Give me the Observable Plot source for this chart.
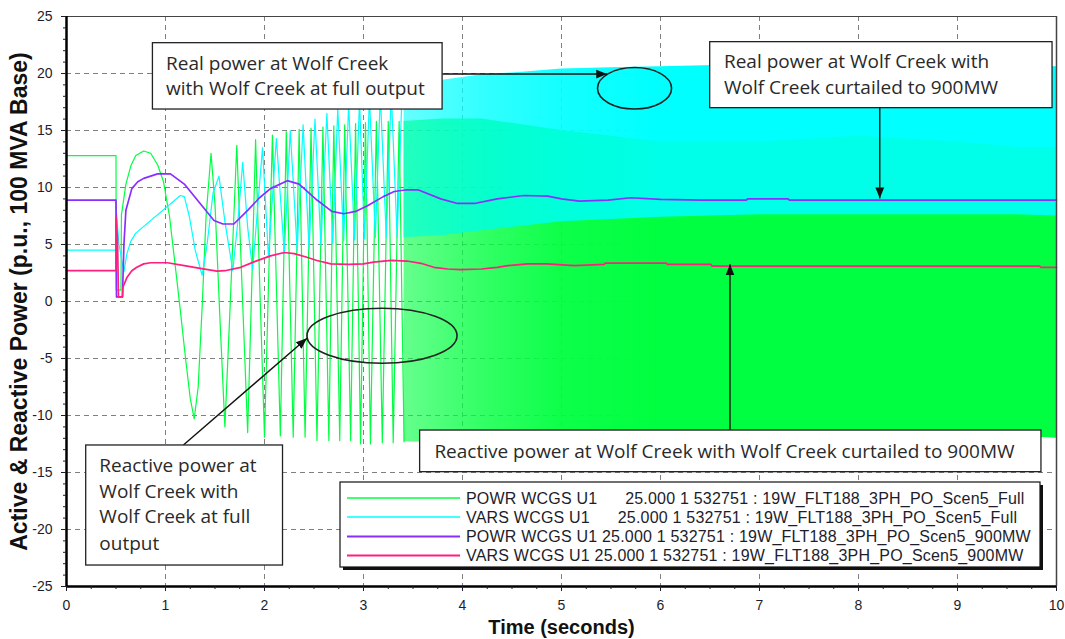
<!DOCTYPE html>
<html><head><meta charset="utf-8">
<script src="https://cdn.jsdelivr.net/npm/d3@7"></script>
<script src="https://cdn.jsdelivr.net/npm/@observablehq/plot@0.6"></script>
<style>
body{margin:0;background:#fff;}
#chart{position:relative;width:1065px;height:639px;}
</style></head><body><div id="chart"></div>
<script>
// ---- data (time in s, value in p.u.) ----
const powrFull = [[0,12.8],[0.5,12.8],[0.502,1.0],[0.55,1.0],[0.555,7.6],[0.6,10.3],[0.65,11.9],[0.7,12.8],[0.78,13.2],[0.85,13.0],[0.92,12.0],[0.98,10.5],[1.04,7.5],[1.1,3.0],[1.15,-0.8],[1.2,-4.8],[1.25,-8.5],[1.29,-10.3],[1.33,-7.5],[1.37,-0.5],[1.41,7.5],[1.46,13.0],[1.5,8.5],[1.55,-1.5],[1.6,-11.0],[1.65,-1.0],[1.72,13.7],[1.77,2.0],[1.83,-11.5],[1.87,1.0],[1.91,14.2],[1.95,2.0],[2.0,-11.9],[2.08,14.6],[2.16,-11.8],[2.22,14.9],[2.29,-11.9],[2.35,15.1],[2.41,-11.9],[2.47,15.2],[2.53,-12.2],[2.59,15.3],[2.65,-12.2],[2.70,15.4],[2.76,-12.2],[2.81,15.5],[2.87,-12.2],[2.92,15.6],[2.97,-12.5],[3.02,15.7],[3.07,-12.5],[3.13,15.8],[3.19,-12.4],[3.25,15.8],[3.30,-12.4],[3.36,15.8],[3.41,-12.3]];
const varsFull = [[0,4.5],[0.5,4.5],[0.505,7.8],[0.53,5.0],[0.58,2.6],[0.61,4.2],[0.65,5.3],[0.7,6.0],[1.15,9.3],[1.19,9.2],[1.24,7.5],[1.3,4.5],[1.37,2.3],[1.42,5.0],[1.48,9.5],[1.54,11.0],[1.6,7.0],[1.68,2.7],[1.73,7.0],[1.78,12.2],[1.83,6.5],[1.88,2.8],[1.98,13.5],[2.04,3.9],[2.12,14.3],[2.2,4.2],[2.26,15.0],[2.33,4.5],[2.39,15.5],[2.45,4.6],[2.51,16.0],[2.57,4.9],[2.63,16.5],[2.69,5.1],[2.74,16.9],[2.80,5.3],[2.85,17.3],[2.91,5.4],[2.96,17.6],[3.01,5.5],[3.06,17.9],[3.12,5.6],[3.17,18.2],[3.23,5.6],[3.28,18.4],[3.34,5.6],[3.39,18.5]];
const powr900 = [[0,8.9],[0.5,8.9],[0.505,0.4],[0.565,0.4],[0.58,5.0],[0.6,8.0],[0.66,9.9],[0.72,10.5],[0.78,10.8],[0.92,11.2],[1.05,11.2],[1.19,10.3],[1.35,8.6],[1.49,7.1],[1.58,6.8],[1.69,6.8],[1.83,8.0],[1.95,9.1],[2.06,9.9],[2.23,10.6],[2.35,10.3],[2.53,8.9],[2.68,7.9],[2.8,7.7],[2.92,7.9],[3.04,8.4],[3.2,9.2],[3.31,9.65],[3.44,9.8],[3.55,9.8],[3.78,9.0],[3.95,8.6],[4.12,8.6],[4.35,9.0],[4.62,9.3],[4.86,9.25],[5.0,9.0],[5.18,8.8],[5.47,8.9],[5.7,9.1],[6.0,8.95],[6.41,8.9],[6.87,8.9],[6.88,9.0],[7.29,9.0],[7.3,8.9],[10,8.9]];
const vars900 = [[0,2.7],[0.5,2.7],[0.502,7.4],[0.515,5.5],[0.525,0.4],[0.565,0.4],[0.57,1.25],[0.61,2.1],[0.66,2.7],[0.71,3.0],[0.78,3.3],[0.85,3.4],[1.02,3.4],[1.19,3.15],[1.35,2.9],[1.52,2.66],[1.6,2.7],[1.76,3.0],[1.9,3.5],[2.06,4.0],[2.2,4.3],[2.3,4.2],[2.42,3.9],[2.53,3.6],[2.67,3.3],[2.85,3.25],[3.0,3.3],[3.1,3.45],[3.28,3.6],[3.44,3.55],[3.58,3.35],[3.71,3.0],[3.85,2.85],[3.98,2.8],[4.19,2.85],[4.35,3.0],[4.46,3.15],[4.66,3.3],[4.85,3.3],[5.13,3.15],[5.43,3.25],[5.44,3.36],[6.06,3.36],[6.07,3.25],[6.51,3.25],[6.52,3.1],[9.83,3.1],[9.84,3.0],[10,3.0]];
// dense (unresolvable) oscillation after ~3.4 s: envelopes
const bandT        = [3.41, 3.8, 4.2, 4.6, 5.0, 5.5, 6.0, 7.0, 8.0, 9.0, 9.6, 10];
const powrFullLow  = [-12.3,-12.4,-12.3,-12.2,-12.0,-11.9,-11.8,-11.7,-11.7,-11.7,-11.8,-12.0];
const powrFullHigh = [15.8, 16.0, 16.0, 15.5, 15.0, 14.5, 14.0, 14.0, 14.5, 14.0, 13.5, 13.5];
const varsFullLow  = [5.6, 5.8, 6.2, 6.6, 7.0, 7.2, 7.4, 7.6, 7.6, 7.6, 7.6, 7.5];
const varsFullHigh = [18.5, 19.4, 19.9, 20.1, 20.4, 20.5, 20.6, 20.8, 20.9, 20.8, 20.7, 20.6];

const xTicks = [0,1,2,3,4,5,6,7,8,9,10];
const yTicks = [-25,-20,-15,-10,-5,0,5,10,15,20,25];
const xLabel = "Time (seconds)";
const yLabel = "Active & Reactive Power (p.u., 100 MVA Base)";
const legendLabels = [
  "POWR WCGS U1      25.000 1 532751 : 19W_FLT188_3PH_PO_Scen5_Full",
  "VARS WCGS U1      25.000 1 532751 : 19W_FLT188_3PH_PO_Scen5_Full",
  "POWR WCGS U1 25.000 1 532751 : 19W_FLT188_3PH_PO_Scen5_900MW",
  "VARS WCGS U1 25.000 1 532751 : 19W_FLT188_3PH_PO_Scen5_900MW"
];
const annotations = [
  {box:[0.873,3.799,22.66,16.84], tx:1.011, ty:[20.85,18.66], lines:["Real power at Wolf Creek","with Wolf Creek at full output"]},
  {box:[6.502,9.960,22.75,16.96], tx:6.646, ty:[20.99,18.75], lines:["Real power at Wolf Creek with","Wolf Creek curtailed to 900MW"]},
  {box:[3.572,9.848,-11.32,-14.97], tx:3.721, ty:[-13.22], lines:["Reactive power at Wolf Creek with Wolf Creek curtailed to 900MW"]},
  {box:[0.199,2.187,-12.63,-23.16], tx:0.337, ty:[-14.45,-16.67,-18.92,-21.25], lines:["Reactive power at","Wolf Creek with","Wolf Creek at full","output"]}
];
const arrows = [[3.80,19.91,5.467,19.91],[8.22,16.93,8.22,9.0],[6.707,-11.32,6.707,3.22],[1.186,-12.63,2.434,-3.27]];
const ellipses = [[5.743,18.66,0.374,1.82],[3.192,-3.05,0.758,2.41]];

const GREEN="#00ff40", CYAN="#00ffff", PURPLE="#8a2eff", PINK="#ff1f7f";
const band = bandT.map((t,i)=>({t, gLow:powrFullLow[i], gHigh:powrFullHigh[i], cLow:varsFullLow[i], cHigh:varsFullHigh[i]}));
const xMinor = d3.range(0, 10.001, 0.25).filter(v => Math.abs(v - Math.round(v)) > 1e-6);
const yMinor = d3.range(-25, 25.001, 1).filter(v => v % 5 !== 0);
const fx = d=>d[0], fy = d=>d[1];
const plain = d => String(d);

const plot = Plot.plot({
  width: 1065, height: 639,
  marginLeft: 66, marginRight: 9, marginTop: 16, marginBottom: 53,
  x: {domain: [0, 10]},
  y: {domain: [-25, 25]},
  style: {fontFamily: "'Liberation Sans', Arial, sans-serif", background: "#fff", color: "#1d1d2b"},
  marks: [
    Plot.gridX(xTicks.slice(1,-1), {stroke:"#808080", strokeOpacity:1, strokeDasharray:"5,4"}),
    Plot.gridY(yTicks.slice(1,-1), {stroke:"#808080", strokeOpacity:1, strokeDasharray:"5,4"}),
    Plot.areaY(band, {x:"t", y1:"gLow", y2:"gHigh", fill:"url(#gradGreen)"}),
    Plot.line(powrFull, {x:fx, y:fy, stroke:GREEN, strokeWidth:1.2}),
    Plot.areaY(band, {x:"t", y1:"cLow", y2:"cHigh", fill:"url(#gradCyan)"}),
    Plot.line(varsFull, {x:fx, y:fy, stroke:CYAN, strokeWidth:1.2}),
    Plot.areaY(band, {x:"t", y1:"cLow", y2:"gHigh", fill:GREEN, fillOpacity:0.12}),
    Plot.line(powr900, {x:fx, y:fy, stroke:PURPLE, strokeWidth:1.7}),
    Plot.line(vars900, {x:fx, y:fy, stroke:PINK, strokeWidth:1.7}),
    Plot.ruleY([25], {stroke:"#444", strokeWidth:1.2}),
    Plot.ruleX([10], {stroke:"#444", strokeWidth:1.5}),
    Plot.ruleX([0], {stroke:"#000", strokeWidth:2.5}),
    Plot.ruleY([-25], {stroke:"#000", strokeWidth:2.5}),
    Plot.axisX(xTicks, {tickSize:5, tickPadding:9, fontSize:14, label:null, tickFormat:plain}),
    Plot.axisX(xMinor, {tickSize:3, tickFormat:()=>"", label:null}),
    Plot.axisY(yTicks, {tickSize:5, tickPadding:9, fontSize:14, label:null, tickFormat:plain}),
    Plot.axisY(yMinor, {tickSize:3, tickFormat:()=>"", label:null}),
    Plot.text([xLabel], {text:d=>d, frameAnchor:"bottom", dy:41, lineAnchor:"middle", textAnchor:"middle", fontSize:20, fontWeight:"bold", fill:"#111"}),
    Plot.text([yLabel], {text:d=>d, frameAnchor:"left", dx:-47, rotate:-90, lineAnchor:"middle", textAnchor:"middle", fontSize:23, fontWeight:"bold", fill:"#111"})
  ]
});
document.getElementById("chart").appendChild(plot);

// ---- defs, annotations, placed through the plot's own scales ----
const sx = plot.scale("x"), sy = plot.scale("y");
const X = v => sx.apply(v), Y = v => sy.apply(v);
const svg = d3.select(plot);
const defs = svg.append("defs");
defs.append("marker").attr("id","ah").attr("viewBox","0 0 10 10")
  .attr("refX",10).attr("refY",5).attr("markerWidth",11).attr("markerHeight",11)
  .attr("markerUnits","userSpaceOnUse").attr("orient","auto")
  .append("path").attr("d","M0,1L10,5L0,9z").attr("fill","#111");
function grad(id, color, stops){
  const g = defs.append("linearGradient").attr("id",id).attr("gradientUnits","userSpaceOnUse")
    .attr("x1",X(bandT[0])).attr("x2",X(bandT[bandT.length-1])).attr("y1",0).attr("y2",0);
  const x0 = X(bandT[0]), w = X(bandT[bandT.length-1]) - x0;
  stops.forEach(([t,o])=>g.append("stop").attr("offset",(X(t)-x0)/w).attr("stop-color",color).attr("stop-opacity",o));
}
grad("gradGreen", GREEN, [[3.41,0.6],[4.2,0.8],[5.0,0.95],[6.0,1]]);
grad("gradCyan", CYAN, [[3.41,0.6],[4.2,0.8],[5.0,0.92],[6.0,1]]);

const ann = svg.append("g").attr("font-family","'Open Sans', sans-serif").attr("font-size",19)
  .attr("fill","#2a2a2a").attr("text-anchor","start");
ellipses.forEach(([cx,cy,rx,ry])=>{
  ann.append("ellipse").attr("cx",X(cx)).attr("cy",Y(cy))
    .attr("rx",X(cx+rx)-X(cx)).attr("ry",Y(cy-ry)-Y(cy))
    .attr("fill","none").attr("stroke","#222").attr("stroke-width",1.6);
});
arrows.forEach(([x1,y1,x2,y2])=>{
  ann.append("line").attr("x1",X(x1)).attr("y1",Y(y1)).attr("x2",X(x2)).attr("y2",Y(y2))
    .attr("stroke","#111").attr("stroke-width",1.4).attr("marker-end","url(#ah)");
});
annotations.forEach(a=>{
  const [x1,x2,y1,y2] = a.box;
  ann.append("rect").attr("x",X(x1)).attr("y",Y(y1)).attr("width",X(x2)-X(x1)).attr("height",Y(y2)-Y(y1))
    .attr("fill","#fff").attr("stroke","#222").attr("stroke-width",1.3);
  a.lines.forEach((s,i)=>{
    ann.append("text").attr("x",X(a.tx)).attr("y",Y(a.ty[i])).attr("dy","0.35em").text(s);
  });
});

// ---- legend ----
const lg = svg.append("g").attr("text-anchor","start");
const L = {x:340, y:482, w:700, h:85};
lg.append("rect").attr("x",L.x+3).attr("y",L.y+3).attr("width",L.w).attr("height",L.h).attr("fill","#111");
lg.append("rect").attr("x",L.x).attr("y",L.y).attr("width",L.w).attr("height",L.h).attr("fill","#fff").attr("stroke","#111").attr("stroke-width",1.2);
const rowY = [498, 517, 536.5, 555.5];
const rowC = [GREEN, CYAN, PURPLE, PINK];
legendLabels.forEach((s,i)=>{
  lg.append("line").attr("x1",347).attr("x2",460).attr("y1",rowY[i]).attr("y2",rowY[i])
    .attr("stroke",rowC[i]).attr("stroke-width", i<2 ? 1.5 : 2);
  lg.append("text").attr("x",466).attr("y",rowY[i]).attr("dy","0.35em")
    .attr("font-family","'Liberation Sans', Arial, sans-serif").attr("font-size",16)
    .attr("letter-spacing","0.2px")
    .attr("fill","#1d1d2b").style("white-space","pre").text(s);
});
</script>
</body></html>
